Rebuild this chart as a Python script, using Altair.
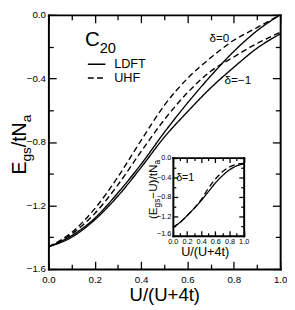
import altair as alt
import pandas as pd

# ---------------- data ----------------
U = [0.0, 0.1, 0.2, 0.3, 0.4, 0.5, 0.6, 0.7, 0.8, 0.9, 1.0]
ldft_d0 = [-1.46, -1.39, -1.28, -1.12, -0.94, -0.74, -0.555, -0.385, -0.23, -0.10, 0.0]
uhf_d0 = [-1.46, -1.37, -1.22, -1.02, -0.79, -0.57, -0.40, -0.27, -0.16, -0.08, 0.0]
ldft_dm1 = [-1.46, -1.40, -1.29, -1.14, -0.96, -0.77, -0.61, -0.46, -0.33, -0.21, -0.12]
uhf_dm1 = [-1.46, -1.38, -1.25, -1.07, -0.86, -0.66, -0.49, -0.355, -0.265, -0.18, -0.11]

inset_ldft = [-1.43, -1.33, -1.19, -1.04, -0.88, -0.70, -0.52, -0.37, -0.25, -0.17, -0.13]
inset_uhf = [-1.43, -1.33, -1.19, -1.04, -0.86, -0.63, -0.44, -0.29, -0.19, -0.14, -0.12]

methods = ["LDFT", "UHF"]
x_ticks = [0.0, 0.1, 0.2, 0.3, 0.4, 0.5, 0.6, 0.7, 0.8, 0.9, 1.0]
x_labels = [0.0, 0.2, 0.4, 0.6, 0.8, 1.0]
y_ticks = [-1.6, -1.4, -1.2, -1.0, -0.8, -0.6, -0.4, -0.2, 0.0]
y_labels = [-1.6, -1.2, -0.8, -0.4, 0.0]

rows = []
for d, m, ys in [("0", "LDFT", ldft_d0), ("0", "UHF", uhf_d0),
                 ("-1", "LDFT", ldft_dm1), ("-1", "UHF", uhf_dm1)]:
    for u, e in zip(U, ys):
        rows.append({"U": u, "E": e, "delta": d, "method": m})
main_df = pd.DataFrame(rows)

irows = []
for m, ys in [("LDFT", inset_ldft), ("UHF", inset_uhf)]:
    for u, e in zip(U, ys):
        irows.append({"U": u, "E": e, "method": m})
inset_df = pd.DataFrame(irows)

# ---------------- layout ----------------
FONT = "Liberation Sans"
W, H = 238, 261
OX, OY = 49.5, 11.0          # page position of the plot origin
IX0, IX1 = 127.8, 200.5      # inset x range (plot coords)
IY0, IY1 = 226.8, 146.6      # inset y range: bottom, top (plot coords)


def cond(mult, big, small):
    return {"condition": {"test": f"abs(datum.value*{mult} - round(datum.value*{mult})) < 0.01",
                          "value": big}, "value": small}


def tick_axis(orient, offset, values, mult, big, small, width=2):
    return alt.Axis(orient=orient, offset=offset, values=values, labels=False,
                    ticks=True, tickSize=cond(mult, big, small), tickWidth=1.3,
                    tickColor="black", domain=True, domainWidth=width,
                    domainColor="black", domainCap="square", title=None, grid=False)


main_x = alt.Scale(domain=[0, 1], nice=False, zero=False)
main_y = alt.Scale(domain=[-1.6, 0], nice=False, zero=False)
ins_x = alt.Scale(domain=[0, 1], range=[IX0, IX1], nice=False, zero=False)
ins_y = alt.Scale(domain=[-1.6, 0], range=[IY0, IY1], nice=False, zero=False)

dash = alt.Scale(domain=methods, range=[[1, 0], [6, 3.5]])

curves = alt.Chart(main_df).mark_line(color="black", strokeWidth=1.4, interpolate="monotone").encode(
    x=alt.X("U:Q", scale=main_x, axis=alt.Axis(
        orient="bottom", values=x_labels, format=".1f", ticks=False, domain=False,
        labelFontSize=10, labelFont=FONT, labelColor="black", labelPadding=6,
        labelFlush=False, labelOverlap=False,
        title="U/(U+4t)", titleFont=FONT, titleFontSize=19, titleFontWeight="normal",
        titleColor="black", titleY=32, titleBaseline="alphabetic", grid=False)),
    y=alt.Y("E:Q", scale=main_y, axis=alt.Axis(
        orient="left", values=y_labels, format=".1f", ticks=False, domain=False,
        labelFontSize=10, labelFont=FONT, labelColor="black", labelPadding=3,
        labelFlush=False, labelOverlap=False, title=None, grid=False)),
    strokeDash=alt.StrokeDash("method:N", scale=dash, legend=alt.Legend(
        orient="none", legendX=39.5, legendY=44.3, title=None, symbolType="stroke",
        symbolSize=324, symbolStrokeWidth=1.5, symbolStrokeColor="black",
        labelFontSize=13, labelFont=FONT, labelColor="black", labelOffset=8,
        clipHeight=13, rowPadding=0, padding=0)),
    detail="delta:N",
)

ticksA = alt.Chart(main_df).mark_point(opacity=0).encode(
    x=alt.X("U:Q", scale=main_x, axis=tick_axis("top", -H, x_ticks, 5, 8, 5)),
    y=alt.Y("E:Q", scale=main_y, axis=tick_axis("right", -W, y_ticks, 2.5, 8, 5)),
)
ticksB = alt.Chart(main_df).mark_point(opacity=0).encode(
    x=alt.X("U:Q", scale=main_x, axis=tick_axis("bottom", -H, x_ticks, 5, 8, 5)),
    y=alt.Y("E:Q", scale=main_y, axis=tick_axis("left", -W, y_ticks, 2.5, 8, 5)),
)

inset = alt.Chart(inset_df).mark_line(color="black", strokeWidth=1.3, interpolate="monotone").encode(
    x=alt.X("U:Q", scale=ins_x, axis=alt.Axis(
        orient="bottom", offset=-(H - IY0), values=x_labels, format=".1f", ticks=False,
        domain=False, labelFontSize=7.5, labelFont=FONT, labelColor="black", labelPadding=1.5,
        labelFlush=False, labelOverlap=False,
        title="U/(U+4t)", titleFont=FONT, titleFontSize=13, titleFontWeight="normal",
        titleColor="black", titleY=20, titleX=160.5, titleBaseline="alphabetic", grid=False)),
    y=alt.Y("E:Q", scale=ins_y, axis=alt.Axis(
        orient="left", offset=-IX0, values=y_labels, format=".1f", ticks=False,
        domain=False, labelFontSize=7.5, labelFont=FONT, labelColor="black", labelPadding=2,
        labelOffset={"condition": {"test": "datum.value < -1.5", "value": -2.5}, "value": 0},
        labelFlush=False, labelOverlap=False, title=None, grid=False)),
    strokeDash=alt.StrokeDash("method:N", scale=dash, legend=None),
)

iticksA = alt.Chart(inset_df).mark_point(opacity=0).encode(
    x=alt.X("U:Q", scale=ins_x, axis=tick_axis("top", -IY0, x_ticks, 5, 5, 3)),
    y=alt.Y("E:Q", scale=ins_y, axis=tick_axis("right", -(W - IX0), y_ticks, 2.5, 5, 3)),
)
iticksB = alt.Chart(inset_df).mark_point(opacity=0).encode(
    x=alt.X("U:Q", scale=ins_x, axis=tick_axis("bottom", -(H - IY1), x_ticks, 5, 5, 3)),
    y=alt.Y("E:Q", scale=ins_y, axis=tick_axis("left", -IX1, y_ticks, 2.5, 5, 3)),
)


def txt(s, xp, yp, size, angle=0, align="left", baseline="alphabetic"):
    kw = dict(text=s, fontSize=size, font=FONT, color="black", align=align, baseline=baseline)
    if angle:
        kw["angle"] = angle
    return alt.Chart(alt.Data(values=[{}])).mark_text(**kw).encode(
        x=alt.value(xp - OX), y=alt.value(yp - OY))


WID = {"E": .667, "g": .556, "s": .5, "/": .278, "t": .278, "N": .722, "a": .556,
       "(": .333, ")": .333, "U": .722, "\u2212": .584}


def wlen(s, size):
    return sum(WID.get(c, .556) for c in s) * size


def vtitle(pieces, y0, xbase, xsub, big, small):
    out = []
    y = y0
    for s, sub in pieces:
        size = small if sub else big
        out.append(txt(s, xsub if sub else xbase, y, size, angle=270))
        y -= wlen(s, size)
    return out


texts = []
texts += vtitle([("E", False), ("gs", True), ("/tN", False), ("a", True)],
                175, 26, 32, 20, 14)
texts += vtitle([("(E", False), ("gs", True), ("\u2212U)/tN", False), ("a", True)],
                220.7, 161.5, 164.5, 12, 8.5)
texts += [
    txt("C", 87, 43.3, 21),
    txt("20", 102.2, 50.1, 15),
    txt("\u03b4=0", 225, 34.5, 12, align="center", baseline="middle"),
    txt("\u03b4=\u22121", 244, 77.5, 12, align="center", baseline="middle"),
    txt("\u03b4=1", 190, 179.1, 11, align="center", baseline="middle"),
]

chart = alt.layer(curves, ticksA, ticksB, inset, iticksA, iticksB, *texts).resolve_scale(
    x="independent", y="independent"
).properties(
    width=W, height=H,
    autosize=alt.AutoSizeParams(type="none"),
    padding={"left": OX - 8, "top": OY - 8, "right": 7, "bottom": 38},
    background="white",
).configure_view(stroke=None).configure_axis(grid=False)

chart.save("out.html", embed_options={"renderer": "svg", "actions": False})
